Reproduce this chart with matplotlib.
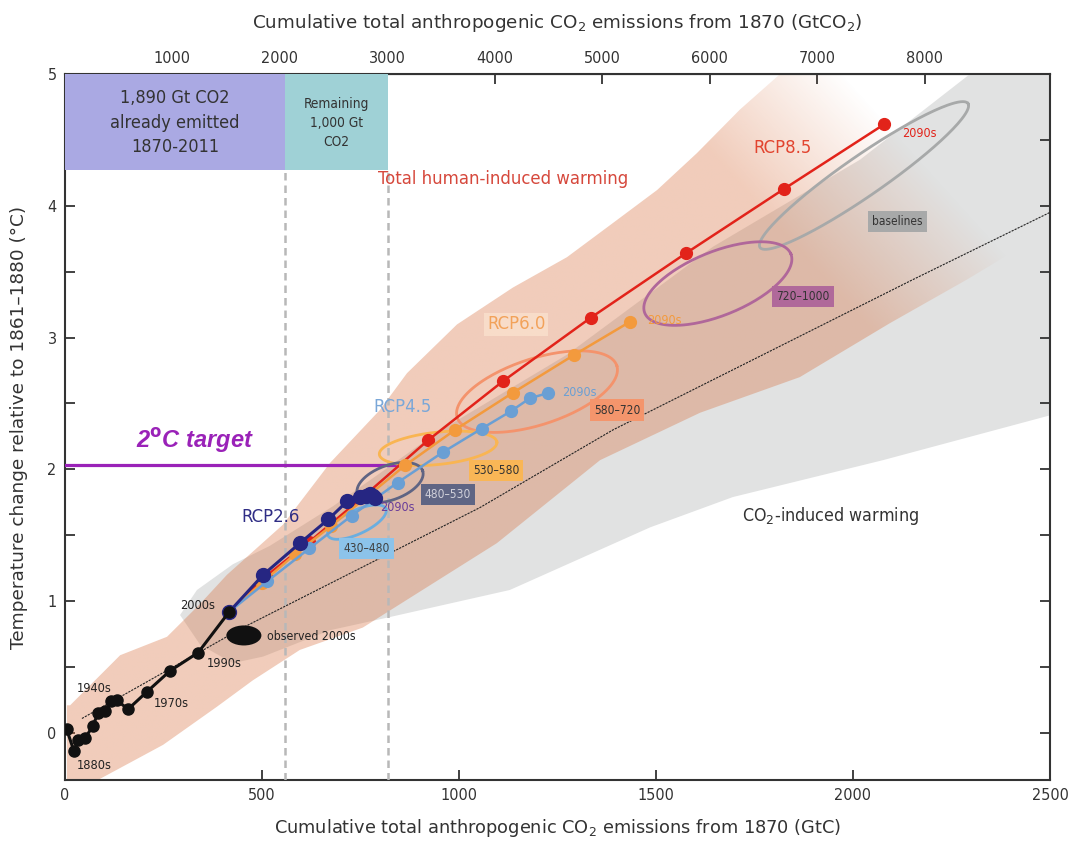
import matplotlib
matplotlib.use('Agg')
import matplotlib.pyplot as plt
import numpy as np
from matplotlib import font_manager as fm
from matplotlib.patches import Polygon, Ellipse, Rectangle

# decade points (cumulative GtC, warming degC), 2000s .. 2090s
rcp26_c = [417, 503, 596, 668, 717, 749, 765, 775, 782, 788]
rcp26_t = [0.92, 1.20, 1.44, 1.62, 1.76, 1.79, 1.80, 1.81, 1.80, 1.78]
rcp45_c = [417, 513, 620, 728, 844, 959, 1058, 1131, 1180, 1227]
rcp45_t = [0.92, 1.15, 1.40, 1.65, 1.90, 2.13, 2.31, 2.44, 2.54, 2.58]
rcp60_c = [417, 500, 585, 675, 765, 863, 990, 1136, 1293, 1434]
rcp60_t = [0.92, 1.14, 1.36, 1.57, 1.79, 2.03, 2.30, 2.58, 2.87, 3.12]
rcp85_c = [417, 510, 620, 760, 921, 1112, 1334, 1576, 1826, 2080]
rcp85_t = [0.92, 1.19, 1.45, 1.80, 2.22, 2.67, 3.15, 3.64, 4.13, 4.62]

# historical decades 1870s .. 2000s
hist_c = [4, 23, 33, 51, 70, 84, 101, 118, 131, 160, 207, 266, 338, 417]
hist_t = [0.03, -0.14, -0.05, -0.04, 0.05, 0.15, 0.17, 0.24, 0.25, 0.18, 0.31, 0.47, 0.61, 0.92]

# CO2-only mean response
co2_c = [43, 452, 1053, 1391, 2152, 2500]
co2_t = [0.11, 0.80, 1.71, 2.30, 3.44, 3.95]

# plume outlines
total_up_c = [5, 13, 140, 259, 343, 411, 553, 673, 799, 868, 995, 1137, 1274, 1391, 1503, 1604, 1713, 1815, 2500]
total_up_t = [0.21, 0.21, 0.59, 0.73, 0.98, 1.20, 1.58, 2.05, 2.45, 2.73, 3.10, 3.38, 3.61, 3.87, 4.12, 4.40, 4.73, 5.0, 5.0]
total_lo_c = [2500, 2289, 2094, 1865, 1612, 1358, 1096, 756, 596, 477, 386, 249, 38, 5]
total_lo_t = [3.82, 3.44, 3.11, 2.70, 2.43, 2.07, 1.44, 0.80, 0.63, 0.40, 0.20, -0.09, -0.43, -0.45]
co2_up_c = [292, 335, 426, 520, 680, 799, 944, 1274, 1645, 2018, 2297, 2500]
co2_up_t = [0.895, 1.085, 1.28, 1.42, 1.72, 1.97, 2.28, 2.87, 3.69, 4.35, 5.0, 5.0]
co2_lo_c = [2500, 2076, 1695, 1485, 1129, 825, 673, 503, 426, 343]
co2_lo_t = [2.41, 2.07, 1.79, 1.56, 1.085, 0.88, 0.78, 0.58, 0.53, 0.67]

# cumulative-emission ellipses: label, centre GtC, centre degC, semi-axes (GtC-equivalent), angle
ell_names = ['baselines', '720\u20131000', '580\u2013720', '530\u2013580', '480\u2013530', '430\u2013480']
ell_cx = [2028, 1657, 1198, 947, 825, 741]
ell_cy = [4.23, 3.41, 2.59, 2.16, 1.90, 1.60]
ell_a = [321, 200, 213, 150, 88, 81]
ell_b = [51, 81, 84, 41, 44, 30]
ell_ang = [34.7, 22, 18, 6, 20, 25]
ell_col = ['#a7a9a9', '#b0679a', '#f4936c', '#f9b552', '#5f6483', '#6aaee0']
ell_lab_c = [2112, 1873, 1401, 1094, 972, 766]
ell_lab_t = [3.88, 3.31, 2.45, 1.99, 1.81, 1.40]
ell_lab_bg = ['#a8a9a9', '#b0699a', '#f4956c', '#f9b656', '#5f6584', '#8cc3ea']
ell_lab_fg = ['#333333', '#333333', '#333333', '#333333', '#d0d0da', '#404040']

already_emitted = 558   # GtC, edge of first box
remaining_end = 820     # GtC, edge of second box
target_t = 2.03

GTC_TO_CO2 = 3.667
K = 334.5  # GtC per degC on screen

# pick a narrow sans face if one is installed, otherwise Liberation Sans a bit smaller
narrow_path = None
for f in fm.fontManager.ttflist:
    nm = f.name + ' ' + f.fname
    if ('Mono' in nm) or ('Serif' in nm) or ('Oblique' in nm) or ('Italic' in nm) or ('Bold' in nm):
        continue
    if ('Narrow' in nm) or ('Condensed' in nm) or f.stretch in ('condensed', 'semi-condensed'):
        if f.style == 'normal':
            narrow_path = f.fname
            break


def cf(size):
    if narrow_path:
        return fm.FontProperties(fname=narrow_path, size=size)
    return fm.FontProperties(family='Liberation Sans', size=size * 0.86)


fig = plt.figure(figsize=(10.69, 8.42), dpi=100)
ax = fig.add_axes([0.0608, 0.0736, 0.9214, 0.8385])
ax.set_xlim(0, 2500)
ax.set_ylim(-0.357, 5.0)

# CO2-induced plume
gray = Polygon(np.column_stack([co2_up_c + co2_lo_c, co2_up_t + co2_lo_t]),
               closed=True, facecolor='#e1e2e2', edgecolor='none', zorder=1)
ax.add_patch(gray)

# total human-induced plume, fading at the top right
xs = np.linspace(0, 2500, 600)
ys = np.linspace(-0.357, 5.0, 500)
X, Y = np.meshgrid(xs, ys)
s = 0.2916 * X + 88.3 * Y - 443
alpha = 0.35 * np.clip((575 - s) / 150, 0, 1)
rgba = np.zeros(X.shape + (4,))
rgba[..., 0] = 215 / 255
rgba[..., 1] = 110 / 255
rgba[..., 2] = 60 / 255
rgba[..., 3] = alpha
peach = Polygon(np.column_stack([total_up_c + total_lo_c, total_up_t + total_lo_t]),
                closed=True, facecolor='none', edgecolor='none')
ax.add_patch(peach)
im = ax.imshow(rgba, extent=[0, 2500, -0.357, 5.0], origin='lower', aspect='auto',
               interpolation='bilinear', zorder=2)
im.set_clip_path(peach)

# top boxes and dashed lines
ax.add_patch(Rectangle((0, 4.27), already_emitted, 5.0 - 4.27, facecolor='#aaa9e3',
                       edgecolor='none', zorder=3))
ax.add_patch(Rectangle((already_emitted, 4.27), remaining_end - already_emitted, 5.0 - 4.27,
                       facecolor='#9fd1d6', edgecolor='none', zorder=3))
for xv in [already_emitted, remaining_end]:
    ax.plot([xv, xv], [-0.357, 4.27], color='#b8b8b8', lw=1.8, ls=(0, (3, 2)), zorder=3)
ax.text(already_emitted / 2, 4.63, '1,890 Gt CO2\nalready emitted\n1870-2011', ha='center',
        va='center', fontproperties=cf(13), color='#333333', linespacing=1.45, zorder=4)
ax.text((already_emitted + remaining_end) / 2, 4.63, 'Remaining\n1,000 Gt\nCO2', ha='center',
        va='center', fontproperties=cf(9.8), color='#333333', linespacing=1.45, zorder=4)

# CO2-only mean
ax.plot(co2_c, co2_t, color='#222222', lw=0.8, ls=(0, (2, 1)), zorder=4)

# 2 degC target
ax.plot([0, 845], [target_t, target_t], color='#9a22b8', lw=2.3, zorder=4)
ax.text(330, 2.22, '2$^\\mathbf{o}$C target', color='#9a22b8', fontsize=17, fontweight='bold',
        fontstyle='italic', family='Liberation Sans', ha='center', va='center', zorder=4)

# ellipses
tt = np.linspace(0, 2 * np.pi, 200)
for i in range(len(ell_names)):
    th = np.radians(ell_ang[i])
    ex = ell_a[i] * np.cos(tt) * np.cos(th) - ell_b[i] * np.sin(tt) * np.sin(th)
    ey = ell_a[i] * np.cos(tt) * np.sin(th) + ell_b[i] * np.sin(tt) * np.cos(th)
    ax.plot(ell_cx[i] + ex, ell_cy[i] + ey / K, color=ell_col[i], lw=2.0, zorder=5)
    ax.text(ell_lab_c[i], ell_lab_t[i], ell_names[i], fontproperties=cf(8.6), color=ell_lab_fg[i],
            ha='center', va='center', zorder=8,
            bbox=dict(boxstyle='square,pad=0.35', facecolor=ell_lab_bg[i], edgecolor='none'))

# observed 2000s
ax.add_patch(Ellipse((454, 0.74), 89, 0.152, facecolor='#111111', edgecolor='none', zorder=7))
ax.text(513, 0.73, 'observed 2000s', fontproperties=cf(8.8), color='#222222',
        ha='left', va='center', zorder=7)

# scenario lines
ax.plot(rcp85_c, rcp85_t, color='#e2231a', lw=1.8, marker='o', ms=8.5, zorder=6)
ax.plot(rcp60_c, rcp60_t, color='#f39a3d', lw=1.8, marker='o', ms=8.5, zorder=6)
ax.plot(rcp45_c, rcp45_t, color='#6a9fd4', lw=1.8, marker='o', ms=8.5, zorder=6)
ax.plot(rcp26_c, rcp26_t, color='#262682', lw=2.2, marker='o', ms=10, zorder=6)
ax.plot(hist_c, hist_t, color='#111111', lw=2.2, marker='o', ms=8, zorder=7)

ax.text(2124, 4.55, '2090s', fontproperties=cf(9), color='#e2231a', va='center', zorder=6)
ax.text(1477, 3.13, '2090s', fontproperties=cf(9), color='#f39a3d', va='center', zorder=6)
ax.text(1261, 2.58, '2090s', fontproperties=cf(9), color='#6a9fd4', va='center', zorder=6)
ax.text(800, 1.71, '2090s', fontproperties=cf(9), color='#6a3d9a', va='center', zorder=5.5)

# decade labels
for lab, c, t in [('1880s', 30, -0.25), ('1940s', 30, 0.34), ('1970s', 226, 0.22),
                  ('1990s', 360, 0.53), ('2000s', 292, 0.97)]:
    ax.text(c, t, lab, fontproperties=cf(9.2), color='#222222', ha='left', va='center', zorder=7)

# scenario names
ax.text(1822, 4.44, 'RCP8.5', fontproperties=cf(13.2), color='#e2442f', ha='center', va='center')
ax.text(795, 4.2, 'Total human-induced warming', fontproperties=cf(13.2), color='#d6483c',
        ha='left', va='center', zorder=4)
ax.text(1145, 3.10, 'RCP6.0', fontproperties=cf(13.2), color='#f2a25a', ha='center', va='center',
        bbox=dict(boxstyle='square,pad=0.15', facecolor='#fbe3cf', edgecolor='none', alpha=0.7))
ax.text(856, 2.47, 'RCP4.5', fontproperties=cf(13.2), color='#7aa7d8', ha='center', va='center')
ax.text(523, 1.64, 'RCP2.6', fontproperties=cf(13.2), color='#2f2d85', ha='center', va='center')
ax.text(1942, 1.65, 'CO$_2$-induced warming', fontproperties=cf(12.8), color='#333333',
        ha='center', va='center')

# axes styling
for sp in ax.spines.values():
    sp.set_color('#333333')
    sp.set_linewidth(1.5)
xt = [0, 500, 1000, 1500, 2000, 2500]
ax.set_xticks(xt)
ax.set_xticklabels([str(v) for v in xt], fontproperties=cf(11.6))
yt = [0, 1, 2, 3, 4, 5]
ax.set_yticks(yt)
ax.set_yticklabels([str(v) for v in yt], fontproperties=cf(11.6))
ax.set_yticks(np.arange(0, 5.01, 0.5), minor=True)
ax.tick_params(which='both', direction='in', length=7, width=1.3, color='#333333',
               labelcolor='#333333', right=True, pad=6)
ax.set_xlabel('Cumulative total anthropogenic CO$_2$ emissions from 1870 (GtC)', fontsize=12.8,
              color='#333333', labelpad=10)
ax.set_ylabel('Temperature change relative to 1861\u20131880 (\u00b0C)', fontsize=13.3,
              color='#333333', labelpad=14)

top = ax.secondary_xaxis('top', functions=(lambda x: x * GTC_TO_CO2, lambda x: x / GTC_TO_CO2))
top_ticks = [1000, 2000, 3000, 4000, 5000, 6000, 7000, 8000, 9000]
top.set_xticks(top_ticks)
top.set_xticklabels([str(v) if v < 9000 else '' for v in top_ticks], fontproperties=cf(11.6))
top.tick_params(direction='in', length=7, width=1.3, color='#333333',
                labelcolor='#333333', pad=6)
top.spines['top'].set_color('#333333')
top.set_xlabel('Cumulative total anthropogenic CO$_2$ emissions from 1870 (GtCO$_2$)',
               fontsize=13.2, color='#333333', labelpad=16)

fig.savefig('out.png', dpi=100)
